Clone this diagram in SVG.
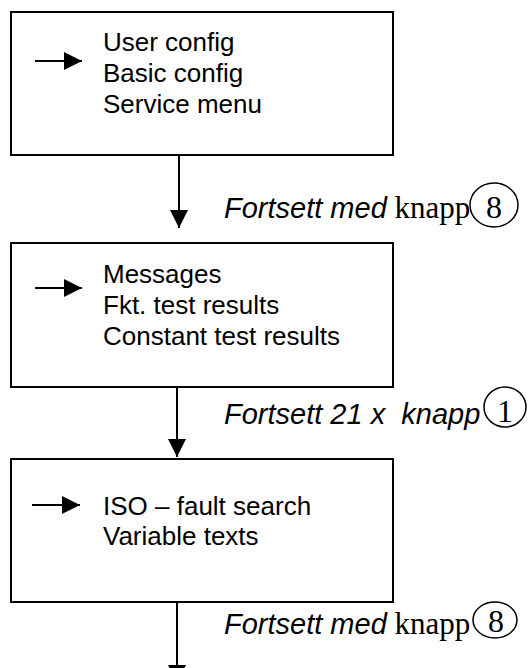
<svg xmlns="http://www.w3.org/2000/svg" width="528" height="668" viewBox="0 0 528 668">
<defs>
<style>
.box{fill:#fff;stroke:#000;stroke-width:2}
.t{font-family:"Liberation Sans",Arial,sans-serif;font-size:26px;fill:#000}
.i{font-family:"Liberation Sans",Arial,sans-serif;font-size:29px;font-style:italic;fill:#000}
.s{font-family:"Liberation Serif","Times New Roman",serif;font-size:31px;fill:#000}
.d{font-family:"Liberation Serif","Times New Roman",serif;font-size:32px;fill:#000}
.c{fill:none;stroke:#000;stroke-width:1.5}
.ln{stroke:#000;stroke-width:2;fill:none}
</style>
<marker id="ah" markerUnits="userSpaceOnUse" markerWidth="18" markerHeight="18" viewBox="0 0 16 16" refX="16" refY="8" orient="auto">
<path d="M0,0 L16,8 L0,16 Z" fill="#000"/>
</marker>
</defs>
<g id="box1">
<rect class="box" x="11" y="12" width="382" height="143"/>
<line class="ln" x1="35" y1="61" x2="82" y2="61" marker-end="url(#ah)"/>
<text class="t" x="103" y="51">User config</text>
<text class="t" x="103" y="82">Basic config</text>
<text class="t" x="103" y="113">Service menu</text>
</g>
<g id="box2">
<rect class="box" x="11" y="243" width="382" height="144"/>
<line class="ln" x1="35" y1="288" x2="82" y2="288" marker-end="url(#ah)"/>
<text class="t" x="103" y="283">Messages</text>
<text class="t" x="103" y="314">Fkt. test results</text>
<text class="t" x="103" y="345">Constant test results</text>
</g>
<g id="box3">
<rect class="box" x="11" y="459" width="382" height="143"/>
<line class="ln" x1="32" y1="505" x2="80" y2="505" marker-end="url(#ah)"/>
<text class="t" x="103" y="515">ISO – fault search</text>
<text class="t" x="103" y="545">Variable texts</text>
</g>
<g id="connectors">
<line class="ln" x1="179" y1="155" x2="179" y2="228" marker-end="url(#ah)"/>
<line class="ln" x1="177" y1="387" x2="177" y2="457" marker-end="url(#ah)"/>
<line class="ln" x1="177" y1="602" x2="177" y2="683" marker-end="url(#ah)"/>
</g>
<g id="label1">
<text x="224" y="218"><tspan class="i">Fortsett med</tspan><tspan class="s"> knapp</tspan></text>
<ellipse class="c" cx="494" cy="205" rx="24" ry="22"/>
<text class="d" x="494" y="218" text-anchor="middle">8</text>
</g>
<g id="label2">
<text class="i" x="224" y="424" xml:space="preserve">Fortsett 21 x  knapp</text>
<ellipse class="c" cx="505" cy="407" rx="21" ry="20"/>
<text class="d" x="505" y="422" text-anchor="middle">1</text>
</g>
<g id="label3">
<text x="224" y="634"><tspan class="i">Fortsett med</tspan><tspan class="s"> knapp</tspan></text>
<ellipse class="c" cx="495" cy="620" rx="22" ry="18"/>
<text class="d" x="496" y="632" text-anchor="middle">8</text>
</g>
</svg>
